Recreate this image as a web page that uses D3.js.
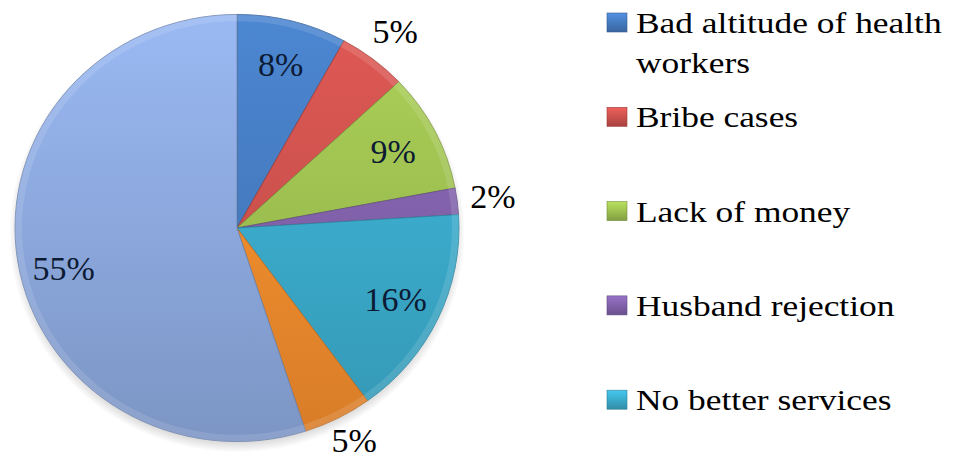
<!DOCTYPE html>
<html>
<head>
<meta charset="utf-8">
<script src="https://cdn.jsdelivr.net/npm/d3@7"></script>
</head>
<body style="margin:0">
<svg id="chart" width="958" height="461"></svg>
<script>
// values, clockwise from 12 o'clock
const values = [8, 5, 9, 2, 16, 5, 55];
const labels = ['8%', '5%', '9%', '2%', '16%', '5%', '55%'];
// only the first five appear in the (cut off) legend
const legendNames = [
  ['Bad altitude of health', 'workers'],
  ['Bribe cases'],
  ['Lack of money'],
  ['Husband rejection'],
  ['No better services']
];
const colors = ['#4479bd', '#c9504c', '#9bbd4f', '#7f60a8', '#3aa8c8', '#f08a2c', '#8aa6da'];

const svg = d3.select('#chart');
const cx = 237, cy = 228, r = 222, squash = 0.962;

const defs = svg.append('defs');
colors.forEach((c, i) => {
  const g = defs.append('linearGradient')
    .attr('id', 'grad' + i)
    .attr('gradientUnits', 'userSpaceOnUse')
    .attr('x1', 0).attr('y1', -r).attr('x2', 0).attr('y2', r);
  g.append('stop').attr('offset', '0%').attr('stop-color', d3.color(c).brighter(0.3));
  g.append('stop').attr('offset', '100%').attr('stop-color', d3.color(c).darker(0.3));

  const lg = defs.append('linearGradient')
    .attr('id', 'lgrad' + i)
    .attr('x1', 0).attr('y1', 0).attr('x2', 0).attr('y2', 1);
  lg.append('stop').attr('offset', '0%').attr('stop-color', d3.color(c).brighter(0.5));
  lg.append('stop').attr('offset', '100%').attr('stop-color', d3.color(c).darker(0.5));
});

// soft shadow under the pie, made with a radial gradient rather than a filter
const sh = defs.append('radialGradient').attr('id', 'shade');
sh.append('stop').attr('offset', '90%').attr('stop-color', '#000').attr('stop-opacity', 0.3);
sh.append('stop').attr('offset', '100%').attr('stop-color', '#000').attr('stop-opacity', 0);

svg.append('ellipse')
  .attr('cx', cx).attr('cy', cy + 5)
  .attr('rx', r + 6).attr('ry', r * squash + 6)
  .attr('fill', 'url(#shade)');

const pie = d3.pie().sort(null).value(d => d);
const arcs = pie(values);
const arc = d3.arc().innerRadius(0).outerRadius(r);
const rim = d3.arc().innerRadius(r - 7).outerRadius(r);

const g = svg.append('g')
  .attr('transform', `translate(${cx},${cy}) scale(1,${squash})`);

g.selectAll('path.slice')
  .data(arcs)
  .join('path')
  .attr('class', 'slice')
  .attr('d', arc)
  .attr('fill', (d, i) => `url(#grad${i})`)
  .attr('stroke', (d, i) => d3.color(colors[i]).darker(0.7))
  .attr('stroke-width', 0.8);

// soft bevel highlight round the rim
g.selectAll('path.rim')
  .data(arcs)
  .join('path')
  .attr('class', 'rim')
  .attr('d', rim)
  .attr('fill', '#fff')
  .attr('opacity', 0.12);

// data labels: small slices outside, others inside
const inner = d3.arc().innerRadius(r * 0.79).outerRadius(r * 0.79);
const outer = d3.arc().innerRadius(r + 36).outerRadius(r + 36);

svg.selectAll('text.pct')
  .data(arcs)
  .join('text')
  .attr('class', 'pct')
  .attr('x', d => cx + (d.data < 6 ? outer : inner).centroid(d)[0])
  .attr('y', d => Math.min(cy + (d.data < 6 ? outer : inner).centroid(d)[1] * squash, 441))
  .attr('dy', d => d.data > 50 ? '0.75em' : '0.33em')
  .attr('text-anchor', 'middle')
  .attr('font-size', 34)
  .style('font-family', '"Times New Roman"')
  .attr('fill', d => d.data < 6 ? '#000' : '#0d1a33')
  .text((d, i) => labels[i]);

// legend
svg.selectAll('rect.key')
  .data(legendNames)
  .join('rect')
  .attr('class', 'key')
  .attr('x', 607).attr('y', (d, i) => 13 + i * 94.3)
  .attr('width', 20).attr('height', 19)
  .attr('fill', (d, i) => `url(#lgrad${i})`)
  .attr('stroke', (d, i) => d3.color(colors[i]).darker(0.8))
  .attr('stroke-width', 0.6);

// the reference text is drawn wide, so stretch it a little
svg.selectAll('text.key')
  .data(legendNames)
  .join('text')
  .attr('class', 'key')
  .attr('transform', (d, i) => `translate(636,${33 + i * 94.3}) scale(1.18,1)`)
  .attr('font-size', 30)
  .style('font-family', '"Times New Roman"')
  .attr('fill', '#000')
  .selectAll('tspan')
  .data(d => d)
  .join('tspan')
  .attr('x', 0)
  .attr('dy', (d, i) => i === 0 ? 0 : 40)
  .text(d => d);
</script>
</body>
</html>
